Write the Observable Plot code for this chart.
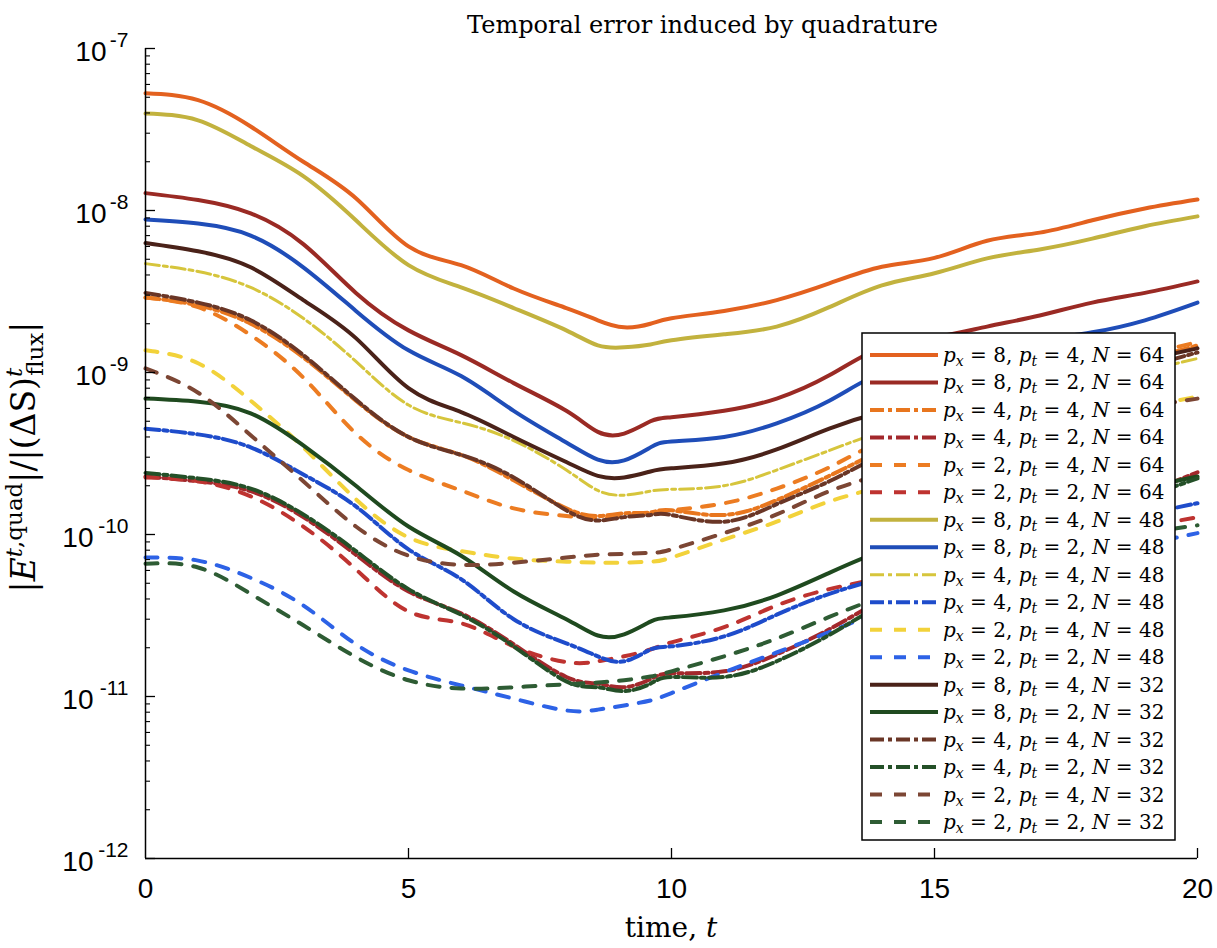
<!DOCTYPE html>
<html>
<head>
<meta charset="utf-8">
<script src="https://cdn.jsdelivr.net/npm/d3@7"></script>
<script src="https://cdn.jsdelivr.net/npm/@observablehq/plot@0.6"></script>
<style>
  body { margin: 0; background: #fff; }
</style>
</head>
<body>
<div id="chart"></div>
<script>
// ---- data ----
const times = [0, 1, 2, 3, 4, 5, 6, 7, 8, 8.6, 9.1, 9.6, 10, 11, 12, 13, 14, 15, 16, 17, 18, 19, 20];

const px8pt4N64 = [5.3e-8, 4.8e-8, 3.3e-8, 2.0e-8, 1.19e-8, 6.0e-9, 4.6e-9, 3.3e-9, 2.5e-9, 2.1e-9, 1.9e-9, 2.0e-9, 2.16e-9, 2.4e-9, 2.8e-9, 3.55e-9, 4.5e-9, 5.1e-9, 6.5e-9, 7.3e-9, 8.7e-9, 1.03e-8, 1.17e-8];
const px8pt2N64 = [1.28e-8, 1.16e-8, 9.6e-9, 6.2e-9, 3.1e-9, 1.82e-9, 1.28e-9, 8.6e-10, 5.8e-10, 4.3e-10, 4.2e-10, 5.0e-10, 5.3e-10, 5.8e-10, 6.9e-10, 9.6e-10, 1.43e-9, 1.65e-9, 1.92e-9, 2.25e-9, 2.7e-9, 3.1e-9, 3.65e-9];
const px4pt4N64 = [2.9e-9, 2.6e-9, 2.0e-9, 1.24e-9, 6.7e-10, 4.0e-10, 3.1e-10, 2.16e-10, 1.45e-10, 1.3e-10, 1.35e-10, 1.37e-10, 1.41e-10, 1.32e-10, 1.63e-10, 2.3e-10, 3.3e-10, 4.5e-10, 6.0e-10, 7.7e-10, 9.6e-10, 1.19e-9, 1.47e-9];
const px4pt2N64 = [2.28e-10, 2.13e-10, 1.85e-10, 1.28e-10, 7.5e-11, 4.45e-11, 3.26e-11, 2.1e-11, 1.32e-11, 1.2e-11, 1.14e-11, 1.28e-11, 1.39e-11, 1.43e-11, 1.82e-11, 2.6e-11, 3.97e-11, 5.7e-11, 7.7e-11, 1.02e-10, 1.35e-10, 1.8e-10, 2.42e-10];
const px2pt4N64 = [2.9e-9, 2.53e-9, 1.7e-9, 9.3e-10, 4.2e-10, 2.5e-10, 1.87e-10, 1.45e-10, 1.3e-10, 1.26e-10, 1.3e-10, 1.35e-10, 1.41e-10, 1.56e-10, 1.92e-10, 2.6e-10, 3.8e-10, 5.06e-10, 6.7e-10, 8.3e-10, 1.03e-9, 1.28e-9, 1.54e-9];
const px2pt2N64 = [2.25e-10, 2.13e-10, 1.72e-10, 1.12e-10, 6.1e-11, 3.35e-11, 2.83e-11, 2.04e-11, 1.63e-11, 1.65e-11, 1.77e-11, 1.95e-11, 2.16e-11, 2.68e-11, 3.65e-11, 4.6e-11, 5.4e-11, 6.4e-11, 7.5e-11, 8.7e-11, 1.0e-10, 1.12e-10, 1.28e-10];
const px8pt4N48 = [3.97e-8, 3.6e-8, 2.5e-8, 1.63e-8, 8.7e-9, 4.6e-9, 3.35e-9, 2.5e-9, 1.82e-9, 1.47e-9, 1.43e-9, 1.49e-9, 1.58e-9, 1.72e-9, 1.92e-9, 2.53e-9, 3.45e-9, 4.1e-9, 5.06e-9, 5.75e-9, 6.7e-9, 8.0e-9, 9.2e-9];
const px8pt2N48 = [8.8e-9, 8.3e-9, 7.0e-9, 4.46e-9, 2.4e-9, 1.37e-9, 9.5e-10, 5.8e-10, 3.7e-10, 2.9e-10, 2.87e-10, 3.45e-10, 3.75e-10, 4.0e-10, 4.86e-10, 6.7e-10, 1.0e-9, 1.19e-9, 1.37e-9, 1.58e-9, 1.77e-9, 2.1e-9, 2.7e-9];
const px4pt4N48 = [4.7e-9, 4.2e-9, 3.35e-9, 2.16e-9, 1.17e-9, 6.3e-10, 4.9e-10, 3.8e-10, 2.5e-10, 1.87e-10, 1.75e-10, 1.85e-10, 1.9e-10, 2.0e-10, 2.5e-10, 3.3e-10, 4.3e-10, 5.2e-10, 6.3e-10, 7.4e-10, 8.8e-10, 1.03e-9, 1.22e-9];
const px4pt2N48 = [4.5e-10, 4.15e-10, 3.45e-10, 2.35e-10, 1.49e-10, 8.1e-11, 5.3e-11, 3.0e-11, 2.13e-11, 1.77e-11, 1.65e-11, 1.95e-11, 2.04e-11, 2.35e-11, 3.2e-11, 4.3e-11, 5.4e-11, 6.7e-11, 8.1e-11, 9.6e-11, 1.12e-10, 1.33e-10, 1.56e-10];
const px2pt4N48 = [1.37e-9, 1.14e-9, 6.7e-10, 3.45e-10, 1.65e-10, 9.6e-11, 7.9e-11, 7.1e-11, 6.8e-11, 6.7e-11, 6.7e-11, 6.8e-11, 7.2e-11, 9.3e-11, 1.2e-10, 1.6e-10, 2.0e-10, 2.68e-10, 3.45e-10, 4.3e-10, 5.1e-10, 6.1e-10, 7.1e-10];
const px2pt2N48 = [7.2e-11, 6.9e-11, 5.4e-11, 3.65e-11, 2.1e-11, 1.45e-11, 1.17e-11, 9.7e-12, 8.2e-12, 8.3e-12, 8.8e-12, 9.45e-12, 1.05e-11, 1.41e-11, 1.87e-11, 2.5e-11, 3.35e-11, 4.15e-11, 5.06e-11, 6.1e-11, 7.3e-11, 8.7e-11, 1.02e-10];
const px8pt4N32 = [6.3e-9, 5.6e-9, 4.46e-9, 2.8e-9, 1.63e-9, 8.0e-10, 5.7e-10, 4.0e-10, 2.8e-10, 2.3e-10, 2.25e-10, 2.45e-10, 2.56e-10, 2.75e-10, 3.35e-10, 4.5e-10, 5.7e-10, 6.7e-10, 7.7e-10, 8.9e-10, 1.03e-9, 1.2e-9, 1.41e-9];
const px8pt2N32 = [6.9e-10, 6.6e-10, 5.6e-10, 3.55e-10, 2.0e-10, 1.12e-10, 7.4e-11, 4.45e-11, 3.0e-11, 2.38e-11, 2.42e-11, 2.9e-11, 3.08e-11, 3.4e-11, 4.2e-11, 5.8e-11, 7.9e-11, 9.6e-11, 1.16e-10, 1.41e-10, 1.67e-10, 1.95e-10, 2.28e-10];
const px4pt4N32 = [3.1e-9, 2.7e-9, 2.1e-9, 1.28e-9, 6.8e-10, 4.0e-10, 3.1e-10, 2.25e-10, 1.41e-10, 1.22e-10, 1.28e-10, 1.32e-10, 1.32e-10, 1.2e-10, 1.54e-10, 2.13e-10, 3.1e-10, 4.1e-10, 5.4e-10, 6.9e-10, 8.7e-10, 1.08e-9, 1.33e-9];
const px4pt2N32 = [2.4e-10, 2.22e-10, 1.92e-10, 1.33e-10, 7.9e-11, 4.6e-11, 3.2e-11, 2.04e-11, 1.24e-11, 1.14e-11, 1.08e-11, 1.2e-11, 1.32e-11, 1.32e-11, 1.65e-11, 2.4e-11, 3.7e-11, 5.3e-11, 7.2e-11, 9.6e-11, 1.28e-10, 1.7e-10, 2.22e-10];
const px2pt4N32 = [1.06e-9, 7.5e-10, 4.1e-10, 2.13e-10, 1.12e-10, 7.4e-11, 6.5e-11, 6.7e-11, 7.2e-11, 7.5e-11, 7.6e-11, 7.7e-11, 8.1e-11, 1.02e-10, 1.33e-10, 1.85e-10, 2.35e-10, 2.95e-10, 3.65e-10, 4.4e-10, 5.2e-10, 6.1e-10, 6.9e-10];
const px2pt2N32 = [6.6e-11, 6.26e-11, 4.3e-11, 2.75e-11, 1.75e-11, 1.26e-11, 1.12e-11, 1.14e-11, 1.19e-11, 1.22e-11, 1.26e-11, 1.33e-11, 1.43e-11, 1.77e-11, 2.28e-11, 3.1e-11, 4.1e-11, 5.06e-11, 6.26e-11, 7.5e-11, 8.9e-11, 1.02e-10, 1.14e-10];

const seriesValues = [px8pt4N64, px8pt2N64, px4pt4N64, px4pt2N64, px2pt4N64, px2pt2N64,
                      px8pt4N48, px8pt2N48, px4pt4N48, px4pt2N48, px2pt4N48, px2pt2N48,
                      px8pt4N32, px8pt2N32, px4pt4N32, px4pt2N32, px2pt4N32, px2pt2N32];
const pxValues = [8, 8, 4, 4, 2, 2, 8, 8, 4, 4, 2, 2, 8, 8, 4, 4, 2, 2];
const ptValues = [4, 2, 4, 2, 4, 2, 4, 2, 4, 2, 4, 2, 4, 2, 4, 2, 4, 2];
const NValues  = [64, 64, 64, 64, 64, 64, 48, 48, 48, 48, 48, 48, 32, 32, 32, 32, 32, 32];
const seriesColors = ["#E3611F", "#9A2A24", "#E8761E", "#A3282C", "#EC7C22", "#BE3330",
                      "#C2B23E", "#1F4DB8", "#D6C53C", "#1E4CCB", "#F2D23A", "#2D62E6",
                      "#4A2219", "#1F4A1F", "#6A3626", "#245028", "#7C4634", "#2E5C34"];
const seriesStyles = ["solid", "solid", "dashdot", "dashdot", "dashed", "dashed",
                      "solid", "solid", "dashdot", "dashdot", "dashed", "dashed",
                      "solid", "solid", "dashdot", "dashdot", "dashed", "dashed"];
const yTickExponents = [-7, -8, -9, -10, -11, -12];
const xTickValues = [0, 5, 10, 15, 20];
const titleText = "Temporal error induced by quadrature";

// ---- layout ----
const W = 1217, H = 948;
const mL = 145, mR = 20, mT = 48, mB = 90;
const plotW = W - mL - mR, plotH = H - mT - mB;
const dashes = {solid: null, dashdot: "14,4,4,4", dashed: "12,12"};
const widthFor = (i) => (i === 8 ? 3 : 4);

const lineMarks = seriesValues.map((vals, i) => {
  const rows = times.map((t, j) => ({t, v: vals[j]}));
  const opts = {x: "t", y: "v", stroke: seriesColors[i], strokeWidth: widthFor(i), curve: "natural"};
  if (dashes[seriesStyles[i]]) opts.strokeDasharray = dashes[seriesStyles[i]];
  return Plot.line(rows, opts);
});

const majorTicks = yTickExponents.map(e => 10 ** e);
const minorTicks = [];
for (const e of yTickExponents) if (e < -7) for (let k = 2; k <= 9; k++) minorTicks.push(k * 10 ** e);

const plot = Plot.plot({
  width: W, height: H,
  marginLeft: mL, marginRight: mR, marginTop: mT, marginBottom: mB,
  x: {domain: [0, 20]},
  y: {type: "log", domain: [1e-12, 1e-7], axis: null},
  style: {background: "white", color: "black"},
  marks: [
    ...lineMarks,
    Plot.ruleX([0], {stroke: "black", strokeWidth: 1.5}),
    Plot.ruleY([1e-12], {stroke: "black", strokeWidth: 1.5}),
    Plot.tickY(majorTicks, {y: d => d, stroke: "black", strokeWidth: 1.3, insetRight: plotW - 10}),
    Plot.tickY(minorTicks, {y: d => d, stroke: "black", strokeWidth: 1.1, insetRight: plotW - 5}),
    Plot.tickX(xTickValues.slice(1), {x: d => d, stroke: "black", strokeWidth: 1.3, insetTop: plotH - 10}),
    Plot.axisX({ticks: xTickValues, tickSize: 0, tickPadding: 20, fontSize: 28, fontFamily: "Liberation Sans", label: null, tickFormat: d => String(d)}),
    Plot.text(yTickExponents, {frameAnchor: "left", y: e => 10 ** e, text: e => String(e), textAnchor: "end", dx: -17, dy: -8, fontSize: 21, fontFamily: "Liberation Sans", fill: "black"}),
    Plot.text(yTickExponents.filter(e => e > -10), {frameAnchor: "left", y: e => 10 ** e, text: () => "10", textAnchor: "end", dx: -39, dy: 4, fontSize: 28, fontFamily: "Liberation Sans", fill: "black"}),
    Plot.text(yTickExponents.filter(e => e <= -10), {frameAnchor: "left", y: e => 10 ** e, text: () => "10", textAnchor: "end", dx: -52, dy: 4, fontSize: 28, fontFamily: "Liberation Sans", fill: "black"}),
    Plot.text([titleText], {frameAnchor: "top", text: d => d, dy: -33, dx: 31, fontSize: 24, fontFamily: "DejaVu Serif", fill: "black"})
  ]
});

document.getElementById("chart").appendChild(plot);

// ---- rich-text axis labels and legend ----
const svg = d3.select(plot);
const serif = "DejaVu Serif";

const xl = svg.append("text").attr("x", 671).attr("y", 937).attr("text-anchor", "middle")
  .style("font-family", serif).style("font-size", "28px").style("white-space", "pre").attr("fill", "black");
xl.append("tspan").text("time, ");
xl.append("tspan").attr("font-style", "italic").text("t");

const yl = svg.append("text").attr("transform", "translate(35,457) rotate(-90)").attr("text-anchor", "middle")
  .style("font-family", serif).style("font-size", "33px").style("white-space", "pre").attr("fill", "black");
yl.append("tspan").text("|");
yl.append("tspan").attr("font-style", "italic").text("E");
yl.append("tspan").attr("font-size", "23px").attr("dy", -13).attr("font-style", "italic").text("t");
yl.append("tspan").attr("font-size", "23px").text(",quad");
yl.append("tspan").attr("dy", 13).text("|/|(ΔS)");
yl.append("tspan").attr("font-size", "23px").attr("dy", -13).attr("font-style", "italic").text("t");
yl.append("tspan").attr("font-size", "23px").attr("dx", -8).attr("dy", 21).text("flux");
yl.append("tspan").attr("dy", -8).text("|");

const leg = svg.append("g");
leg.append("rect").attr("x", 862).attr("y", 333).attr("width", 313).attr("height", 507)
  .attr("fill", "white").attr("stroke", "black").attr("stroke-width", 1.5);
seriesValues.forEach((_, i) => {
  const y = 355 + i * 27.47;
  const ln = leg.append("line").attr("x1", 870).attr("x2", 938).attr("y1", y).attr("y2", y)
    .attr("stroke", seriesColors[i]).attr("stroke-width", widthFor(i));
  if (dashes[seriesStyles[i]]) ln.attr("stroke-dasharray", dashes[seriesStyles[i]]);
  const t = leg.append("text").attr("x", 943).attr("y", y).attr("dy", "0.35em").attr("text-anchor", "start")
    .style("font-family", serif).style("font-size", "20px").style("white-space", "pre").attr("fill", "black");
  t.append("tspan").attr("font-style", "italic").text("p");
  t.append("tspan").attr("font-style", "italic").attr("font-size", "14px").attr("dy", 4).text("x");
  t.append("tspan").attr("dy", -4).text(` = ${pxValues[i]}, `);
  t.append("tspan").attr("font-style", "italic").text("p");
  t.append("tspan").attr("font-style", "italic").attr("font-size", "14px").attr("dy", 4).text("t");
  t.append("tspan").attr("dy", -4).text(` = ${ptValues[i]}, `);
  t.append("tspan").attr("font-style", "italic").text("N");
  t.append("tspan").text(` = ${NValues[i]}`);
});
</script>
</body>
</html>
